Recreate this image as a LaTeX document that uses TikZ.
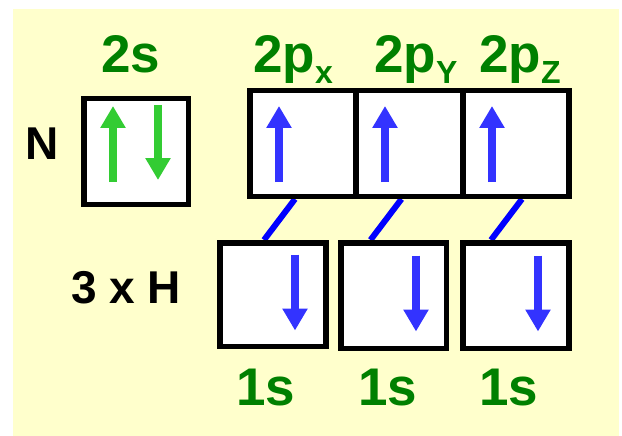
\documentclass[tikz,border=0pt]{standalone}
\usepackage{fontspec}
\setmainfont{Liberation Sans}
\usetikzlibrary{arrows.meta,calc,backgrounds}
\definecolor{paper}{HTML}{FFFFCC}
\definecolor{labelgreen}{HTML}{008000}
\definecolor{pairgreen}{HTML}{33CC33}
\definecolor{spinblue}{HTML}{3333FF}
\definecolor{bondblue}{HTML}{0000FF}
\newcommand\orbsub[1]{\raisebox{-11pt}{\fontsize{32}{36}\selectfont #1}}
\begin{document}
\begin{tikzpicture}[x=1pt,y=-1pt,
  orb/.style={draw=black,line width=5.5pt,fill=white,minimum width=106pt,minimum height=105pt,inner sep=0pt},
  lbl/.style={text=labelgreen,font=\bfseries\fontsize{53}{60}\selectfont,inner sep=0pt},
  atom/.style={text=black,font=\bfseries\fontsize{46}{52}\selectfont,inner sep=0pt},
  spin/.style={line width=8pt,-{Triangle[width=24pt,length=22pt]}},
  bond/.style={draw=bondblue,line width=6pt}]
\useasboundingbox (0,0) rectangle (622,436);

% orbital boxes of nitrogen
\node[orb,minimum width=104.5pt,minimum height=105.5pt] (s2) at (136,151.5) {};
\node[orb,minimum height=105.5pt] (px) at (303,143.5) {};
\node[orb,minimum height=105.5pt] (py) at (409.5,143.5) {};
\node[orb,minimum height=105.5pt] (pz) at (516,143.5) {};

% orbital boxes of the three hydrogens
\node[orb,minimum height=103.5pt] (h1) at (273,294.5) {};
\node[orb,minimum width=105.5pt,minimum height=105.5pt] (h2) at (393.5,295.5) {};
\node[orb,minimum height=105.5pt] (h3) at (516,295.5) {};

% background and bonding lines
\begin{scope}[on background layer]
  \fill[paper] (13,9) rectangle (619,436);
  \draw[bond] ($(px.south)+(-8,0)$) -- ($(h1.north)+(-9,0)$);
  \draw[bond] ($(py.south)+(-8,0)$) -- ($(h2.north)+(-23,0)$);
  \draw[bond] ($(pz.south)+(6,0)$) -- ($(h3.north)+(-25,0)$);
\end{scope}

% electron spins
\draw[spin,pairgreen] ($(s2.center)+(-23,30.5)$) -- ($(s2.center)+(-23,-45.5)$);
\draw[spin,pairgreen] ($(s2.center)+(22,-46.5)$) -- ($(s2.center)+(22,28.5)$);
\draw[spin,spinblue] ($(px.center)+(-24,38.5)$) -- ($(px.center)+(-24,-37.5)$);
\draw[spin,spinblue] ($(py.center)+(-24.5,38.5)$) -- ($(py.center)+(-24.5,-37.5)$);
\draw[spin,spinblue] ($(pz.center)+(-24,38.5)$) -- ($(pz.center)+(-24,-37.5)$);
\draw[spin,spinblue] ($(h1.center)+(22,-40)$) -- ($(h1.center)+(22,36)$);
\draw[spin,spinblue] ($(h2.center)+(22.5,-40)$) -- ($(h2.center)+(22.5,36)$);
\draw[spin,spinblue] ($(h3.center)+(22,-40)$) -- ($(h3.center)+(22,36)$);

% labels
\node[lbl,anchor=base] (t2s) at (131,73) {2s};
\node[lbl,anchor=base west] (t2px) at (253,73) {2p\orbsub{x}};
\node[lbl,anchor=base west] (t2py) at (374,73) {2p\orbsub{Y}};
\node[lbl,anchor=base west] (t2pz) at (479,73) {2p\orbsub{Z}};
\node[atom,anchor=base] (tn) at (42,160) {N};
\node[atom,anchor=base west] (th) at (71,303) {3 x H};
\node[lbl,anchor=base] (t1a) at (266,405) {1s};
\node[lbl,anchor=base] (t1b) at (388,405) {1s};
\node[lbl,anchor=base] (t1c) at (509,405) {1s};
\end{tikzpicture}
\end{document}
